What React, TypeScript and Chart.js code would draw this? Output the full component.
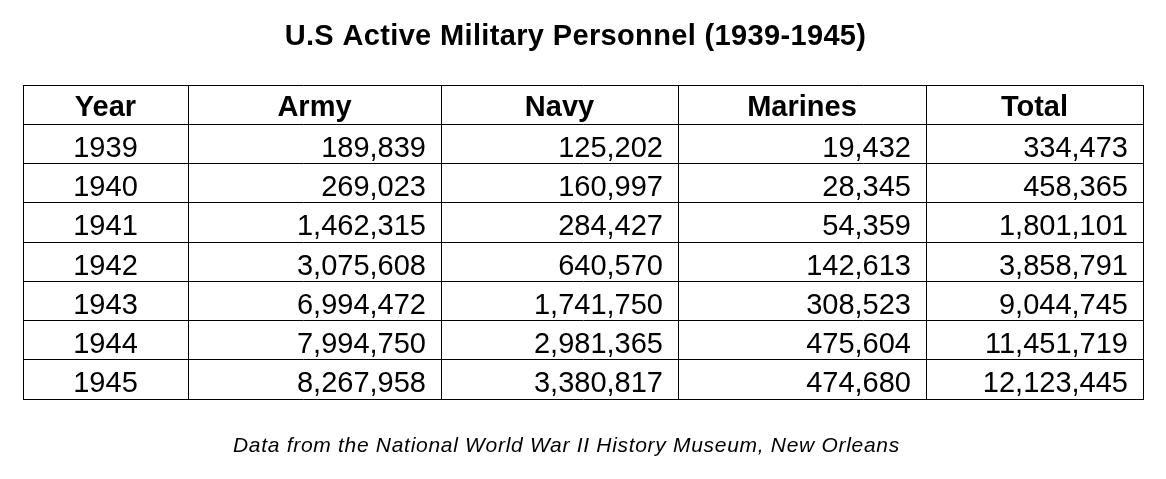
import { useEffect, useRef } from "react";
import { Chart, registerables } from "chart.js";

Chart.register(...registerables);

const TITLE = "U.S Active Military Personnel (1939-1945)";
const SOURCE = "Data from the National World War II History Museum, New Orleans";
const COLUMNS = ["Year", "Army", "Navy", "Marines", "Total"];
const YEARS = ["1939", "1940", "1941", "1942", "1943", "1944", "1945"];
const ARMY = [189839, 269023, 1462315, 3075608, 6994472, 7994750, 8267958];
const NAVY = [125202, 160997, 284427, 640570, 1741750, 2981365, 3380817];
const MARINES = [19432, 28345, 54359, 142613, 308523, 475604, 474680];
const TOTAL = [334473, 458365, 1801101, 3858791, 9044745, 11451719, 12123445];

// layout (not data): column boundaries in x-scale units
const COLUMN_EDGES = [0, 165, 418, 655, 903, 1120];
const FONT = "'Liberation Sans', Arial, Helvetica, sans-serif";

const fmt = (n: number) => String(n).replace(/\B(?=(\d{3})+(?!\d))/g, ",");

const ROW_LABELS = ["header", ...YEARS];
const SERIES = [ARMY, NAVY, MARINES, TOTAL];

const tablePlugin = {
  id: "tablePlugin",
  afterDraw(chart: any) {
    const ctx = chart.ctx as any;
    const xs = chart.scales.x;
    const ys = chart.scales.y;
    const { top, bottom } = chart.chartArea;
    const crisp = (v: number) => Math.floor(v) + 0.5;
    ctx.save();
    ctx.strokeStyle = "#000";
    ctx.lineWidth = 1;
    ctx.beginPath();
    COLUMN_EDGES.forEach((e) => {
      const px = crisp(xs.getPixelForValue(e));
      ctx.moveTo(px, crisp(top));
      ctx.lineTo(px, crisp(bottom));
    });
    const x0 = crisp(xs.getPixelForValue(COLUMN_EDGES[0]));
    const x1 = crisp(xs.getPixelForValue(COLUMN_EDGES[COLUMN_EDGES.length - 1]));
    for (let k = 0; k <= ROW_LABELS.length; k++) {
      const py = crisp(ys.getPixelForValue(k - 0.5));
      ctx.moveTo(x0 - 0.5, py);
      ctx.lineTo(x1 + 0.5, py);
    }
    ctx.stroke();

    ctx.fillStyle = "#000";
    ctx.textBaseline = "alphabetic";
    // header
    ctx.font = `bold 29px ${FONT}`;
    ctx.textAlign = "center";
    const hy = ys.getPixelForValue(0) + 11.5;
    COLUMNS.forEach((c, i) => {
      const cx = (xs.getPixelForValue(COLUMN_EDGES[i]) + xs.getPixelForValue(COLUMN_EDGES[i + 1])) / 2;
      ctx.fillText(c, cx, hy);
    });
    // body
    ctx.font = `29px ${FONT}`;
    YEARS.forEach((yr, r) => {
      const py = ys.getPixelForValue(r + 1) + 13;
      ctx.textAlign = "center";
      const cx = (xs.getPixelForValue(COLUMN_EDGES[0]) + xs.getPixelForValue(COLUMN_EDGES[1])) / 2;
      ctx.fillText(yr, cx, py);
      ctx.textAlign = "right";
      SERIES.forEach((s, c) => {
        const rx = xs.getPixelForValue(COLUMN_EDGES[c + 2]) - 15;
        ctx.fillText(fmt(s[r]), rx, py);
      });
    });

    // title
    ctx.font = `bold 29px ${FONT}`;
    ctx.textAlign = "left";
    ctx.letterSpacing = "0.35px";
    const tw = ctx.measureText(TITLE).width;
    ctx.fillText(TITLE, 575.5 - tw / 2, 45);
    // source
    ctx.font = `italic 21px ${FONT}`;
    ctx.letterSpacing = "0.7px";
    ctx.fillText(SOURCE, 233, 452);
    ctx.letterSpacing = "0px";
    ctx.restore();
  },
};

export default function App() {
  const ref = useRef<HTMLCanvasElement | null>(null);
  useEffect(() => {
    document.body.style.margin = "0";
    const canvas = ref.current;
    if (!canvas) return;
    const chart = new Chart(canvas, {
      type: "scatter",
      data: { labels: ROW_LABELS, datasets: [] },
      options: {
        animation: false,
        responsive: false,
        devicePixelRatio: 1,
        layout: { padding: { left: 23, top: 85, right: 23, bottom: 80 } },
        plugins: { legend: { display: false }, tooltip: { enabled: false }, title: { display: false } },
        scales: {
          x: { type: "linear", min: 0, max: 1120, display: false },
          y: { type: "category", labels: ROW_LABELS, offset: true, display: false },
        },
      },
      plugins: [
        {
          id: "bg",
          beforeDraw(c: any) {
            const ctx = c.ctx;
            ctx.save();
            ctx.fillStyle = "#fff";
            ctx.fillRect(0, 0, c.width, c.height);
            ctx.restore();
          },
        },
        tablePlugin,
      ],
    } as any);
    return () => chart.destroy();
  }, []);
  return <canvas ref={ref} width={1166} height={479} style={{ display: "block", width: 1166, height: 479 }} />;
}
